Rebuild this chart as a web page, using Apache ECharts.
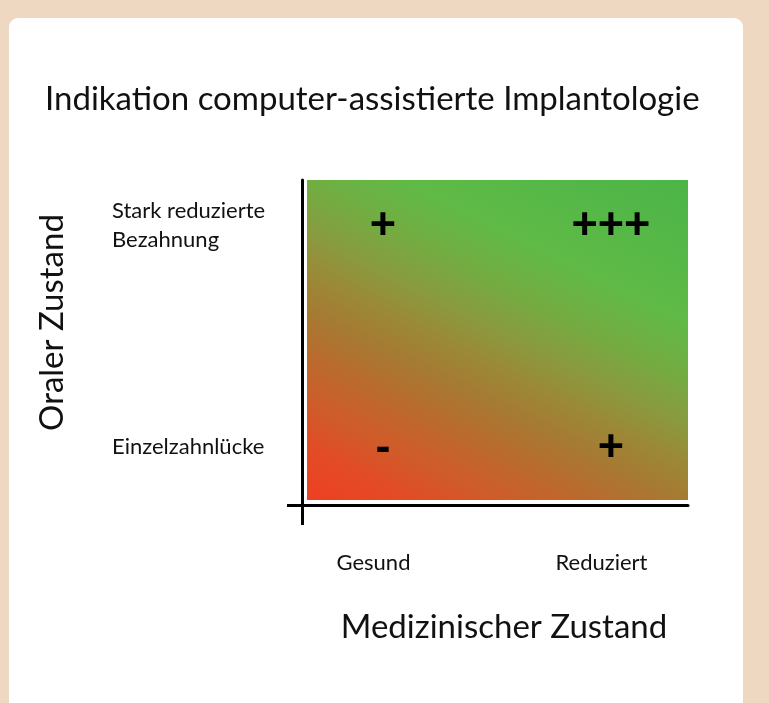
<!DOCTYPE html>
<html><head><meta charset="utf-8">
<script src="https://cdn.jsdelivr.net/npm/echarts@6/dist/echarts.min.js"></script>
<style>html,body{margin:0;padding:0;background:#efd8c1;}#c{width:769px;height:703px;}</style>
</head><body><div id="c"></div>
<script>
const titleText = 'Indikation computer-assistierte Implantologie';
const xName = 'Medizinischer Zustand';
const yName = 'Oraler Zustand';
const xCategories = ['Gesund', 'Reduziert'];
const yCategories = ['Einzelzahnlücke', 'Stark reduzierte\nBezahnung'];
const markX = [0, 1, 0, 1];
const markY = [1, 1, 0, 0];
const markText = ['+', '+++', '-', '+'];

const X_MIN = -0.342, X_MAX = 1.351, Y_MIN = -0.2613, Y_MAX = 1.2027;
const FONT = 'Lato, "Open Sans", sans-serif';

const chart = echarts.init(document.getElementById('c'), null, {renderer: 'canvas'});
const gradient = new echarts.graphic.LinearGradient(0, 1, 0.538, -0.275, [
  {offset: 0, color: '#ef3f23'},
  {offset: 0.1, color: '#e34b26'},
  {offset: 0.19, color: '#cf5c2a'},
  {offset: 0.28, color: '#bb6a2e'},
  {offset: 0.37, color: '#a67a32'},
  {offset: 0.45, color: '#9a8a38'},
  {offset: 0.52, color: '#8a9a3e'},
  {offset: 0.62, color: '#72ad42'},
  {offset: 0.72, color: '#60ba46'},
  {offset: 0.85, color: '#55b847'},
  {offset: 1, color: '#4cb447'}
]);

chart.setOption({
  backgroundColor: '#efd8c1',
  animation: false,
  graphic: [{
    type: 'rect', left: 9, top: 18, z: -10,
    shape: {width: 734, height: 720, r: 9},
    style: {fill: '#ffffff'}
  }],
  title: {
    text: titleText, left: 40, top: 78,
    textStyle: {fontFamily: FONT, fontSize: 33, fontWeight: 'normal', color: '#111'}
  },
  grid: {left: 302, right: 81, top: 180, bottom: 198},
  xAxis: {
    type: 'value', min: X_MIN, max: X_MAX,
    name: xName, nameLocation: 'middle', nameGap: 106,
    nameTextStyle: {fontFamily: FONT, fontSize: 33, color: '#111', padding: [0, 0, 0, 18]},
    axisLine: {show: true, onZero: false, lineStyle: {color: '#000', width: 3}},
    axisTick: {show: true, customValues: [X_MIN], length: 20, lineStyle: {color: '#000', width: 3}},
    axisLabel: {
      customValues: [0, 1], margin: 47, padding: [0, 13, 0, 0],
      formatter: v => xCategories[Math.round(v)],
      fontFamily: FONT, fontSize: 22, color: '#111'
    },
    splitLine: {show: false}
  },
  yAxis: {
    type: 'value', min: Y_MIN, max: Y_MAX,
    name: yName, nameLocation: 'middle', nameGap: 233, nameRotate: 90,
    nameTextStyle: {fontFamily: FONT, fontSize: 33, color: '#111', padding: [0, 0, 0, 40]},
    axisLine: {show: true, onZero: false, lineStyle: {color: '#000', width: 3}},
    axisTick: {show: true, customValues: [Y_MIN], length: 15, lineStyle: {color: '#000', width: 3}},
    axisLabel: {
      customValues: [0, 1], margin: 190, align: 'left', lineHeight: 29,
      formatter: v => yCategories[Math.round(v)],
      fontFamily: FONT, fontSize: 22, color: '#111'
    },
    splitLine: {show: false}
  },
  series: [{
    type: 'scatter', z: 1, silent: true,
    symbolSize: 0, data: [],
    markArea: {
      silent: true,
      itemStyle: {color: gradient},
      data: [[{coord: [-0.32, -0.2387]}, {coord: [X_MAX, Y_MAX]}]]
    }
  }, {
    type: 'scatter', z: 5,
    symbolSize: 2,
    itemStyle: {color: 'rgba(0,0,0,0)', opacity: 1},
    data: markX.map((x, i) => [x, markY[i], markText[i]]),
    label: {
      show: true, position: 'inside', offset: [3, 2],
      formatter: p => p.value[2],
      fontFamily: '"Liberation Sans", Arial, sans-serif', fontWeight: 'bold', fontSize: 45, color: '#000'
    }
  }]
});
</script></body></html>
